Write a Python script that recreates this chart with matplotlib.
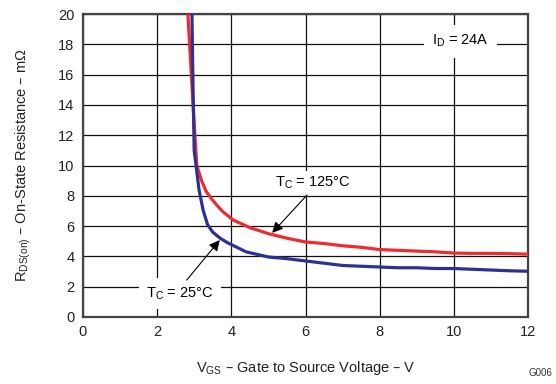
import matplotlib
matplotlib.use("Agg")
import matplotlib.pyplot as plt

plt.rcParams["font.family"] = ["Liberation Sans", "DejaVu Sans"]
plt.rcParams["mathtext.default"] = "regular"

# Curves (VGS in V, RDS(on) in mOhm)
vgs_125 = [2.83, 2.90, 2.97, 3.02, 3.07, 3.20, 3.32, 3.50, 3.75, 4.05, 4.50, 5.00,
           5.50, 6.00, 6.50, 7.00, 7.50, 8.00, 8.50, 9.00, 9.50, 10.0, 10.5, 11.0,
           11.5, 12.0]
rds_125 = [20.0, 17.0, 14.0, 12.0, 10.0, 9.0, 8.3, 7.7, 7.0, 6.4, 5.9, 5.5,
           5.2, 4.95, 4.85, 4.7, 4.6, 4.45, 4.4, 4.35, 4.3, 4.22, 4.2, 4.2,
           4.18, 4.15]

vgs_25 = [2.94, 2.97, 3.00, 3.05, 3.13, 3.24, 3.36, 3.50, 3.70, 3.90, 4.40, 5.00,
          5.50, 6.00, 6.50, 7.00, 7.50, 8.00, 8.50, 9.00, 9.50, 10.0, 10.5, 11.0,
          11.5, 12.0]
rds_25 = [20.0, 15.0, 11.0, 10.0, 8.4, 7.06, 6.1, 5.6, 5.2, 4.9, 4.3, 3.96,
          3.85, 3.7, 3.55, 3.4, 3.35, 3.3, 3.25, 3.25, 3.2, 3.2, 3.15, 3.1,
          3.05, 3.02]

x_ticks = [0, 2, 4, 6, 8, 10, 12]
y_ticks = [0, 2, 4, 6, 8, 10, 12, 14, 16, 18, 20]

fig = plt.figure(figsize=(5.56, 3.84), dpi=100)
ax = fig.add_axes([0.149, 0.1745, 0.801, 0.789])

ax.plot(vgs_125, rds_125, color="#ee2b2e", linewidth=2.3, zorder=3)
ax.plot(vgs_25, rds_25, color="#2e3192", linewidth=2.3, zorder=4)

ax.set_xlim(0, 12)
ax.set_ylim(0, 20)
ax.set_xticks(x_ticks)
ax.set_yticks(y_ticks)
ax.tick_params(length=0, labelsize=10.5, colors="#222222", pad=6)
ax.grid(True, color="#111111", linewidth=0.9)
ax.set_axisbelow(True)
for sp in ax.spines.values():
    sp.set_color("#444444")
    sp.set_linewidth(1.6)

ax.set_xlabel(r"V$_{GS}$ – Gate to Source Voltage – V", fontsize=10.5,
              color="#222222", labelpad=14)
ax.set_ylabel(r"R$_{DS(on)}$ – On-State Resistance – mΩ", fontsize=10.5,
              color="#222222", labelpad=18)

box = dict(facecolor="white", edgecolor="none", pad=2.5)
arrow = dict(arrowstyle="-|>", color="black", lw=0.8, mutation_scale=16,
             shrinkA=0, shrinkB=0)

ax.text(10.17, 18.2, r"I$_D$ = 24A", fontsize=10.5, ha="center", va="center",
        bbox=dict(facecolor="white", edgecolor="none", pad=6), zorder=5)

ax.annotate("", xy=(5.1, 5.55), xytext=(6.04, 8.05), arrowprops=arrow, zorder=6)
ax.text(6.2, 8.85, r"T$_C$ = 125°C", fontsize=10.5, ha="center", va="center",
        bbox=box, zorder=5)

ax.annotate("", xy=(3.69, 5.08), xytext=(2.8, 2.44), arrowprops=arrow, zorder=6)
ax.text(2.62, 1.55, r"T$_C$ = 25°C", fontsize=10.5, ha="center", va="center",
        bbox=dict(facecolor="white", edgecolor="none", pad=5), zorder=5)

fig.text(0.972, 0.015, "G006", fontsize=7, ha="center", va="bottom",
         color="#333333")

fig.savefig("out.png", dpi=100, facecolor="white")
